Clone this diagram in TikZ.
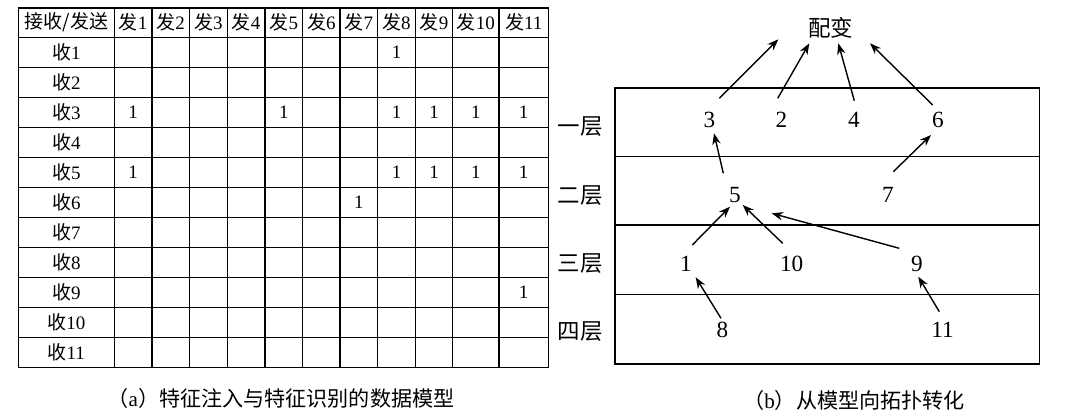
\documentclass[tikz,border=0pt]{standalone}
\usepackage{fontspec}
\setmainfont{Liberation Serif}
\newfontfamily\cjk{Noto Sans CJK SC}
\usetikzlibrary{arrows.meta}
\tikzset{
  cell/.style={font=\fontsize{13.5}{15}\selectfont, inner sep=0pt},
  grid/.style={line width=1pt},
  num/.style={font=\fontsize{16.5}{18}\selectfont, inner sep=0pt},
  layer/.style={font=\cjk\fontsize{16}{18}\selectfont, inner sep=0pt},
  arr/.style={-{Stealth[length=8pt,width=6pt]}, line width=1pt},
  caption/.style={font=\fontsize{15}{17}\selectfont, inner sep=0pt},
}

\begin{document}
\begin{tikzpicture}[x=0.025cm, y=-0.025cm]
    \useasboundingbox (0,0) rectangle (1080,417);
    % (a) data model table
    \draw[grid] (18.3,8) rectangle (548.3,367.3);
    \foreach \x in {114.3,152,189.3,227.3,265,302.7,340,377.7,415.3,452.7,499}
      \draw[grid] (\x,8) -- (\x,367.3);
    \foreach \k in {0,...,10}
      \draw[grid] (18.3,{37.3+30*\k}) -- (548.3,{37.3+30*\k});
    \node[cell] (hd) at (66.3,22.6) {\cjk 接收/发送};
    \foreach \x [count=\c] in {133.2,170.7,208.3,246.2,283.9,321.4,358.9,396.5,434,475.9,523.7}
      \node[cell] (h\c) at (\x,22.6) {{\cjk 发}\c};
    \foreach \r in {1,...,11}
      \node[cell] (r\r) at (66.3,{22.3+30*\r}) {{\cjk 收}\r};
    \foreach \r/\c in {1/8, 3/1, 3/5, 3/8, 3/9, 3/10, 3/11,
                       5/1, 5/8, 5/9, 5/10, 5/11, 6/7, 9/11}
      \node[cell] (d\r-\c) at (h\c |- r\r) {1};
    \node[caption] (capa) at (281,398.5) {{\cjk （}a{\cjk ）特征注入与特征识别的数据模型}};

    % (b) layered topology
    \draw[grid] (615,88) rectangle (1039.3,364);
    \foreach \y in {156.7,225,294.5}
      \draw[grid] (615,\y) -- (1039.3,\y);
    \node[layer] (l1) at (580,127) {一层};
    \node[layer] (l2) at (580,196) {二层};
    \node[layer] (l3) at (580,264) {三层};
    \node[layer] (l4) at (580,332) {四层};
    \node[layer] (pb) at (830.5,28) {配变};
    \node[num] (n3) at (709.5,120) {3};
    \node[num] (n2) at (781.5,120) {2};
    \node[num] (n4) at (854,120) {4};
    \node[num] (n6) at (938,120) {6};
    \node[num] (n5) at (735,195) {5};
    \node[num] (n7) at (888,195) {7};
    \node[num] (n1) at (686,263.5) {1};
    \node[num] (n10) at (791.7,263.5) {10};
    \node[num] (n9) at (917,263.5) {9};
    \node[num] (n8) at (722.5,330) {8};
    \node[num] (n11) at (942.5,330) {11};
    \draw[arr] ([shift={(9.8,-21.7)}]n3.center) -- ([shift={(-52.2,11.3)}]pb.center);
    \draw[arr] ([shift={(-3.8,-21.7)}]n2.center) -- ([shift={(-21.2,15.3)}]pb.center);
    \draw[arr] ([shift={(0.3,-19.3)}]n4.center) -- ([shift={(7.8,15.3)}]pb.center);
    \draw[arr] ([shift={(-5.3,-15)}]n6.center) -- ([shift={(39.5,15.3)}]pb.center);
    \draw[arr] ([shift={(-11.7,-21.7)}]n5.center) -- ([shift={(4.5,13.3)}]n3.center);
    \draw[arr] ([shift={(5.3,-23.3)}]n7.center) -- ([shift={(-7,15)}]n6.center);
    \draw[arr] ([shift={(6.3,-18.5)}]n1.center) -- ([shift={(-5,11.7)}]n5.center);
    \draw[arr] ([shift={(-9,-20.2)}]n10.center) -- ([shift={(7.7,10)}]n5.center);
    \draw[arr] ([shift={(-17.7,-15.2)}]n9.center) -- ([shift={(36.7,18.3)}]n5.center);
    \draw[arr] ([shift={(-1.5,-11.7)}]n8.center) -- ([shift={(9.7,13.8)}]n1.center);
    \draw[arr] ([shift={(-3.2,-18.3)}]n11.center) -- ([shift={(1.3,13.2)}]n9.center);
    \node[caption] (capb) at (854,400) {{\cjk （}b{\cjk ）从模型向拓扑转化}};
  \end{tikzpicture}
\end{document}
